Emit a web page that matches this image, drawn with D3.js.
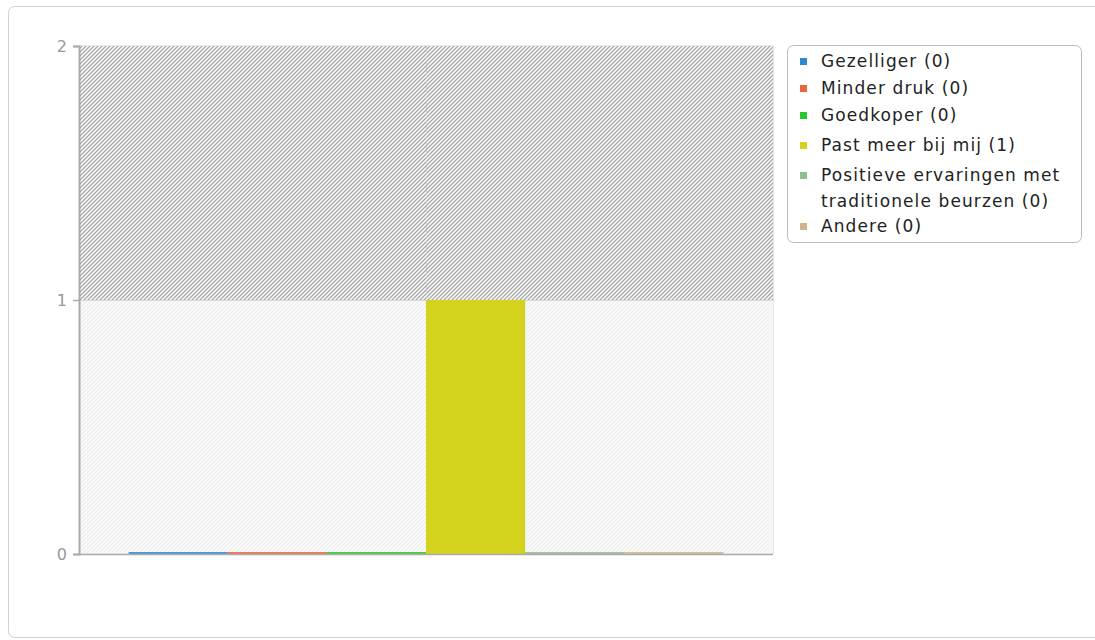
<!DOCTYPE html>
<html><head><meta charset="utf-8">
<script src="https://cdn.jsdelivr.net/npm/d3@7"></script>
<style>body{margin:0;background:#fff;}svg{display:block;font-family:"DejaVu Sans",sans-serif;}</style>
</head><body><svg id="c" width="1095" height="640"></svg>
<script>
const categories = ["Gezelliger","Minder druk","Goedkoper","Past meer bij mij","Positieve ervaringen met traditionele beurzen","Andere"];
const values = [0,0,0,1,0,0];
const colors = ["#2d88d2","#e8643f","#2cc72c","#d3d21d","#8fbf8f","#d2b48c"];
const legendLines = [["Gezelliger (0)"],["Minder druk (0)"],["Goedkoper (0)"],["Past meer bij mij (1)"],["Positieve ervaringen met","traditionele beurzen (0)"],["Andere (0)"]];
const yTicks = [0,1,2];

const svg = d3.select("#c");
const defs = svg.append("defs");
function hatch(id, bg, fg){
  const p = defs.append("pattern").attr("id",id).attr("patternUnits","userSpaceOnUse")
    .attr("width",4).attr("height",4);
  p.append("rect").attr("width",4).attr("height",4).attr("fill",bg);
  p.append("path").attr("d","M-1,1 l2,-2 M0,4 l4,-4 M3,5 l2,-2").attr("stroke",fg).attr("stroke-width",1.4);
}
hatch("hDark","#ffffff","#a9a9a9");
hatch("hLight","#fbfbfb","#efefef");

// outer frame
svg.append("rect").attr("x",8.5).attr("y",6.5).attr("width",1110).attr("height",631)
  .attr("rx",6).attr("fill","#fff").attr("stroke","#d0d0d0");

const L=79,R=773,T=46,B=554;
const y = d3.scaleLinear().domain([0,2]).range([B,T]);
const x = d3.scaleBand().domain(categories).range([L,R]).paddingInner(0).paddingOuter(0.5);

// background regions
svg.append("rect").attr("x",L).attr("y",y(2)).attr("width",R-L).attr("height",y(1)-y(2)).attr("fill","url(#hDark)");
svg.append("rect").attr("x",L).attr("y",y(1)).attr("width",R-L).attr("height",y(0)-y(1)).attr("fill","url(#hLight)");
svg.append("line").attr("x1",L).attr("x2",R).attr("y1",y(1)+0.5).attr("y2",y(1)+0.5).attr("stroke","#d8d8d8");
svg.append("line").attr("x1",L).attr("x2",R).attr("y1",T-0.5).attr("y2",T-0.5).attr("stroke","#e6e6e6");
svg.append("line").attr("x1",R+0.5).attr("x2",R+0.5).attr("y1",T).attr("y2",B).attr("stroke","#e6e6e6");
// center dashed gridline
const mid = (L+R)/2;
svg.append("line").attr("x1",mid+0.5).attr("x2",mid+0.5).attr("y1",T).attr("y2",B)
  .attr("stroke","#d0d0d0").attr("stroke-dasharray","3,2");

// bars
svg.selectAll("rect.bar").data(categories).join("rect").attr("class","bar")
  .attr("x",d=>x(d)).attr("width",x.bandwidth())
  .attr("y",(d,i)=>values[i]>0?y(values[i]):y(0)-2)
  .attr("height",(d,i)=>values[i]>0?y(0)-y(values[i]):2)
  .attr("fill",(d,i)=>colors[i]).attr("opacity",(d,i)=>values[i]>0?1:0.85);

// axes
const yAxis = svg.append("g").attr("transform",`translate(${L},0)`)
  .call(d3.axisLeft(y).tickValues(yTicks).tickFormat(d3.format("d")).tickSize(6).tickPadding(6));
yAxis.select(".domain").attr("stroke","#aaa").attr("stroke-width",2);
yAxis.selectAll(".tick line").attr("stroke","#aaa").attr("stroke-width",1.5);
yAxis.selectAll(".tick text").attr("fill","#999").attr("font-size",16).attr("font-family","DejaVu Sans");
svg.append("line").attr("x1",L).attr("x2",R).attr("y1",B+0.5).attr("y2",B+0.5).attr("stroke","#aaa").attr("stroke-width",1.5);

// legend
const lg = svg.append("g");
lg.append("rect").attr("x",787.5).attr("y",45.5).attr("width",294).attr("height",197).attr("rx",6)
  .attr("fill","#fff").attr("stroke","#bbb");
const rowY = [61,88,115,145,175,226];
legendLines.forEach((lines,i)=>{
  lg.append("rect").attr("x",800).attr("y",rowY[i]-3).attr("width",7).attr("height",7).attr("fill",colors[i]);
  lines.forEach((t,j)=>{
    lg.append("text").attr("x",821).attr("y",rowY[i]+j*26).attr("dy","0.35em")
      .attr("font-size",17).attr("letter-spacing",1.1).attr("fill","#222").text(t);
  });
});
</script></body></html>
